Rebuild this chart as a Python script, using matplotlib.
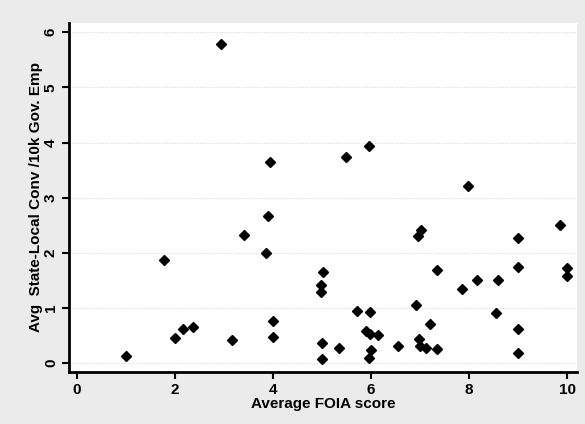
import matplotlib
matplotlib.use('Agg')
import matplotlib.pyplot as plt

# average FOIA score vs avg state-local convictions per 10k gov. employees
foia = [2.95, 3.95, 1.0, 1.78, 2.0, 2.17, 2.37, 3.17, 3.4, 3.9, 3.85, 4.0, 4.0,
        5.5, 5.97, 7.03, 6.97, 5.03, 4.99, 4.99, 5.72, 5.99, 5.9, 5.99, 6.15,
        5.0, 5.35, 5.0, 6.01, 5.97, 6.56, 6.92, 7.2, 6.98, 7.0, 7.12, 7.35,
        7.35, 7.98, 7.85, 8.17, 8.59, 8.55, 8.99, 8.99, 9.01, 9.01, 9.86, 9.99, 9.99]
conv = [5.79, 3.65, 0.13, 1.86, 0.45, 0.61, 0.65, 0.41, 2.32, 2.66, 1.99, 0.76, 0.48,
        3.73, 3.94, 2.42, 2.31, 1.66, 1.42, 1.29, 0.94, 0.92, 0.59, 0.53, 0.51,
        0.37, 0.28, 0.08, 0.24, 0.10, 0.31, 1.06, 0.70, 0.43, 0.30, 0.27, 0.25,
        1.69, 3.21, 1.34, 1.51, 1.50, 0.90, 2.26, 1.75, 0.62, 0.18, 2.51, 1.72, 1.58]
xticks = [0, 2, 4, 6, 8, 10]
yticks = [0, 1, 2, 3, 4, 5, 6]

plt.rcParams['font.family'] = ['Liberation Sans', 'DejaVu Sans']
plt.rcParams['font.weight'] = 'bold'

fig = plt.figure(figsize=(5.85, 4.24), dpi=100, facecolor='#ebebeb')
ax = fig.add_axes([0.118, 0.123, 0.868, 0.823], facecolor='white')

for t in yticks:
	ax.axhline(t, color='#d8d8d8', linewidth=0.8, linestyle=(0, (1, 1.5)), zorder=0)

ax.plot(foia, conv, linestyle='none', marker='D', markersize=5, color='black', zorder=3)

ax.set_xlim(-0.16, 10.2)
ax.set_ylim(-0.16, 6.17)
ax.set_xticks(xticks)
ax.set_yticks(yticks)
ax.set_yticklabels([str(t) for t in yticks], rotation=90, va='center')

for s in ['top', 'right']:
	ax.spines[s].set_visible(False)
for s in ['left', 'bottom']:
	ax.spines[s].set_linewidth(2)
ax.tick_params(direction='out', length=5, width=1.5, labelsize=11, pad=3)

ax.set_xlabel('Average FOIA score', fontsize=11, fontweight='bold', labelpad=0)
ax.set_ylabel('Avg  State-Local Conv /10k Gov. Emp', fontsize=11, fontweight='bold', labelpad=1)

fig.savefig('out.png', dpi=100, facecolor=fig.get_facecolor())
